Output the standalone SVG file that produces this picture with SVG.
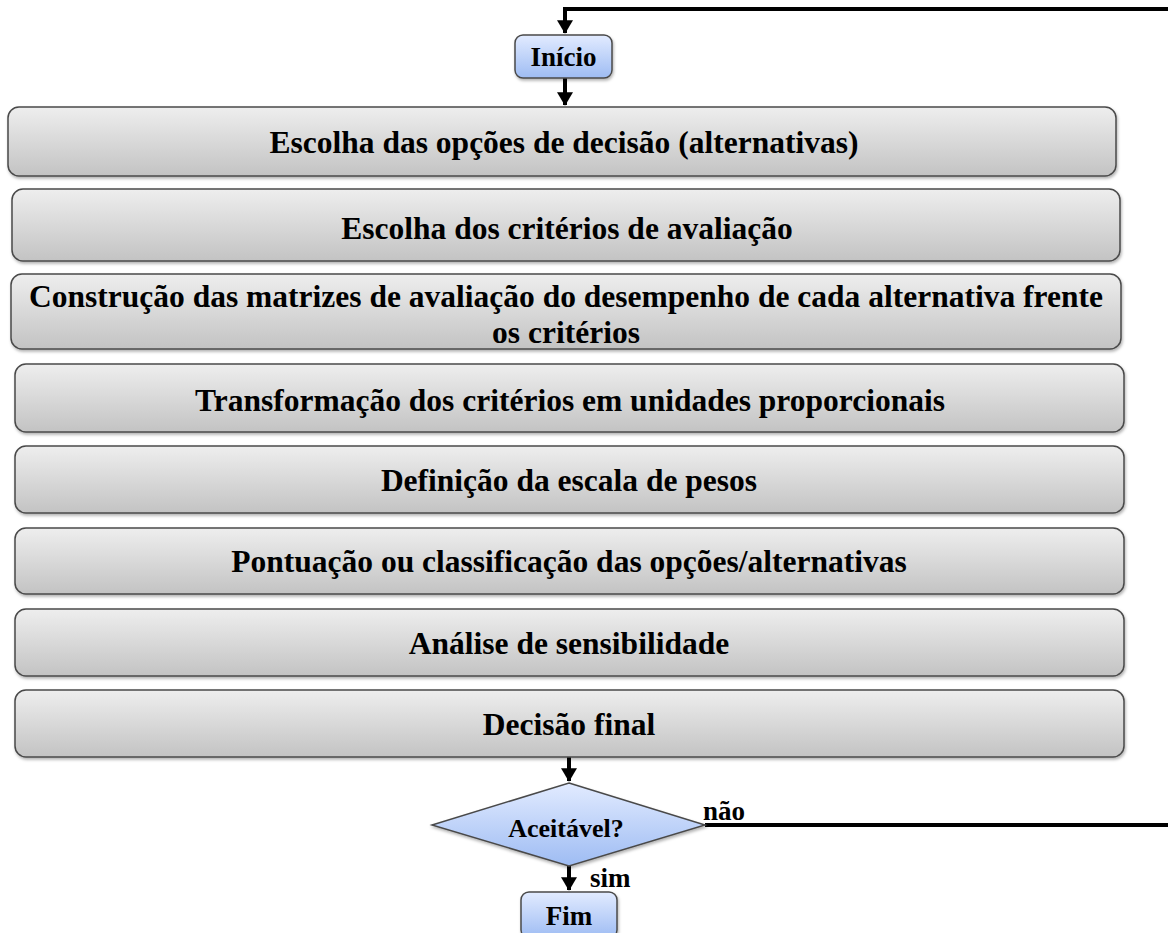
<svg xmlns="http://www.w3.org/2000/svg" width="1168" height="933" viewBox="0 0 1168 933">
<defs>
<linearGradient id="gg" x1="0" y1="0" x2="0" y2="1"><stop offset="0" stop-color="#eeeeee"/><stop offset="1" stop-color="#c3c3c3"/></linearGradient>
<linearGradient id="gb" x1="0" y1="0" x2="0" y2="1"><stop offset="0" stop-color="#e2ebff"/><stop offset="1" stop-color="#9ebcf3"/></linearGradient>
<filter id="sh" x="-5%" y="-20%" width="110%" height="150%"><feDropShadow dx="1" dy="2" stdDeviation="1.5" flood-color="#000" flood-opacity="0.3"/></filter>
<marker id="ah" markerWidth="4" markerHeight="4" refX="3.2" refY="2" orient="auto" markerUnits="strokeWidth"><path d="M0,0 L3.4,2 L0,4 Z" fill="#000"/></marker>
<style>
.box{fill:url(#gg);stroke:#4a4a4a;stroke-width:1.5;filter:url(#sh)}
.blue{fill:url(#gb);stroke:#4a4a4a;stroke-width:1.5;filter:url(#sh)}
.t{font-family:"Liberation Serif","Times New Roman",serif;font-weight:bold;font-size:31.5px;fill:#000;text-anchor:middle}
.b{font-size:27px}
.s{font-family:"Liberation Serif","Times New Roman",serif;font-weight:bold;font-size:27px;fill:#000}
.c{stroke:#000;stroke-width:4;fill:none}
</style>
</defs>
<g id="connectors">
<path class="c" d="M1168,9 L565,9 L565,33" marker-end="url(#ah)"/>
<path class="c" d="M565,78 L565,105" marker-end="url(#ah)"/>
<path class="c" d="M569,757 L569,781" marker-end="url(#ah)"/>
<path class="c" d="M569,866 L569,890" marker-end="url(#ah)"/>
<path class="c" d="M705,825 L1168,825"/>
<text class="s" x="703" y="820">não</text>
<text class="s" x="590" y="887">sim</text>
</g>
<g id="inicio"><rect class="blue" x="515" y="35" width="97" height="43" rx="8"/><text class="t b" x="563.5" y="66">Início</text></g>
<g id="n1"><rect class="box" x="8" y="107" width="1108" height="69" rx="11"/><text class="t" x="564" y="153">Escolha das opções de decisão (alternativas)</text></g>
<g id="n2"><rect class="box" x="12" y="189" width="1108" height="72" rx="11"/><text class="t" x="567" y="239">Escolha dos critérios de avaliação</text></g>
<g id="n3"><rect class="box" x="11" y="274" width="1110" height="75" rx="11"/><text class="t" x="566" y="307">Construção das matrizes de avaliação do desempenho de cada alternativa frente</text><text class="t" x="566" y="343">os critérios</text></g>
<g id="n4"><rect class="box" x="15" y="364" width="1109" height="68" rx="11"/><text class="t" x="570" y="411">Transformação dos critérios em unidades proporcionais</text></g>
<g id="n5"><rect class="box" x="15" y="446" width="1109" height="67" rx="11"/><text class="t" x="569" y="491">Definição da escala de pesos</text></g>
<g id="n6"><rect class="box" x="15" y="528" width="1109" height="66" rx="11"/><text class="t" x="569" y="572">Pontuação ou classificação das opções/alternativas</text></g>
<g id="n7"><rect class="box" x="15" y="609" width="1109" height="67" rx="11"/><text class="t" x="569" y="654">Análise de sensibilidade</text></g>
<g id="n8"><rect class="box" x="15" y="690" width="1109" height="67" rx="11"/><text class="t" x="569" y="735">Decisão final</text></g>
<g id="decision"><polygon class="blue" points="569,783 705,825 569,866 432,825"/><text class="t" x="566" y="837" style="font-size:26px">Aceitável?</text></g>
<g id="fim"><rect class="blue" x="521" y="892" width="96" height="46" rx="8"/><text class="t b" x="569" y="925">Fim</text></g>
</svg>
